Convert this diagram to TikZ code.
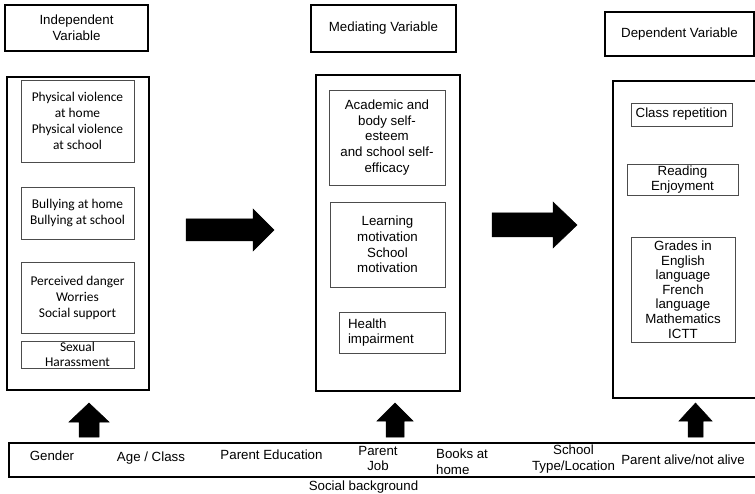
\documentclass[tikz,border=0pt]{standalone}
\usepackage{fontspec}
\setmainfont{Liberation Sans}
\newfontfamily\calib{Carlito}
\tikzset{
  varbox/.style={draw=black, line width=1.1pt, minimum width=#1, inner sep=0pt, align=center},
  itembox/.style={draw=black!70, line width=0.8pt, minimum width=#1, inner sep=0pt, align=center},
  bigarr/.style={fill=black, draw=black, line width=0.5pt}
}
\begin{document}
\begin{tikzpicture}[x=1pt, y=-1pt, font=\fontsize{13.3}{15.8}\selectfont]
      \clip (0,0) rectangle (755,494);
      \fill[white] (0,0) rectangle (755,494);
      \draw
        (76.5,28) node[varbox=143pt, minimum height=46pt] (ivhead){Independent\\Variable}
        (383.5,28.5) node[varbox=145pt, minimum height=47pt] (mvhead){Mediating Variable}
        (679.5,34) node[varbox=149pt, minimum height=44pt] (dvhead){Dependent Variable}
        (78,233.5) node[varbox=142pt, minimum height=313pt] (ivbox){}
        (388,233) node[varbox=144pt, minimum height=316pt] (mvbox){}
        (691.5,239.5) node[varbox=157pt, minimum height=317pt] (dvbox){}
        (389.5,460) node[varbox=761pt, minimum height=34pt] (social){};
      \begin{scope}[font=\calib\fontsize{13.4}{16}\selectfont]
        \draw
          (77.5,121) node[itembox=113pt, minimum height=82pt] (iv1){Physical violence\\at home\\Physical violence\\at school}
          (77.5,213) node[itembox=113pt, minimum height=52pt] (iv2){Bullying at home\\Bullying at school}
          (77.5,297.5) node[itembox=113pt, minimum height=71pt] (iv3){Perceived danger\\Worries\\Social support}
          (77.5,354.5) node[itembox=113pt, minimum height=27pt, font=\calib\fontsize{13.4}{15}\selectfont] (iv4){Sexual\\Harassment};
      \end{scope}
      \draw
        (387,137.5) node[itembox=116pt, minimum height=95pt] (mv1){Academic and\\body self-\\esteem\\and school self-\\efficacy}
        (387.5,244.5) node[itembox=115pt, minimum height=85pt] (mv2){Learning\\motivation\\School\\motivation}
        (392,332.5) node[itembox=106pt, minimum height=41pt, text width=88pt, inner xsep=9pt, align=left] (mv3){Health\\impairment}
        (681.5,114.5) node[itembox=101pt, minimum height=23pt] (dv1){Class repetition}
        (682.5,179.5) node[itembox=111pt, minimum height=31pt] (dv2){Reading\\Enjoyment}
        (683,289.5) node[itembox=104pt, minimum height=105pt, font=\fontsize{13.3}{14.6}\selectfont] (dv3){Grades in\\English\\language\\French\\language\\Mathematics\\ICTT};
      \draw
        (52,456) node (gender){Gender}
        (151,458) node (age){Age / Class}
        (271.5,455) node (pedu){Parent Education}
        (378,458.5) node[align=center] (pjob){Parent\\Job}
        (436,461.5) node[anchor=west, inner sep=0pt, align=left] (books){Books at\\home}
        (573.5,459) node[align=center] (school){School\\Type/Location}
        (683,460) node (alive){Parent alive/not alive}
        (363.5,487) node (socbg){Social background};
      \begin{scope}[bigarr]
        \filldraw (186,219) -- (253,219) -- (253,209) -- (274,230) -- (253,251) -- (253,241) -- (186,241) -- cycle;
        \filldraw (492,213) -- (553,213) -- (553,202) -- (577,225) -- (553,248) -- (553,237) -- (492,237) -- cycle;
        \filldraw (79,437) -- (79,422) -- (69,422) -- (89,403) -- (109,422) -- (99,422) -- (99,437) -- cycle;
        \filldraw (386,437) -- (386,421) -- (377,421) -- (395,403) -- (413,421) -- (404,421) -- (404,437) -- cycle;
        \filldraw (688,437) -- (688,421) -- (679,421) -- (695.5,403) -- (712,421) -- (703,421) -- (703,437) -- cycle;
      \end{scope}
    \end{tikzpicture}
\end{document}
